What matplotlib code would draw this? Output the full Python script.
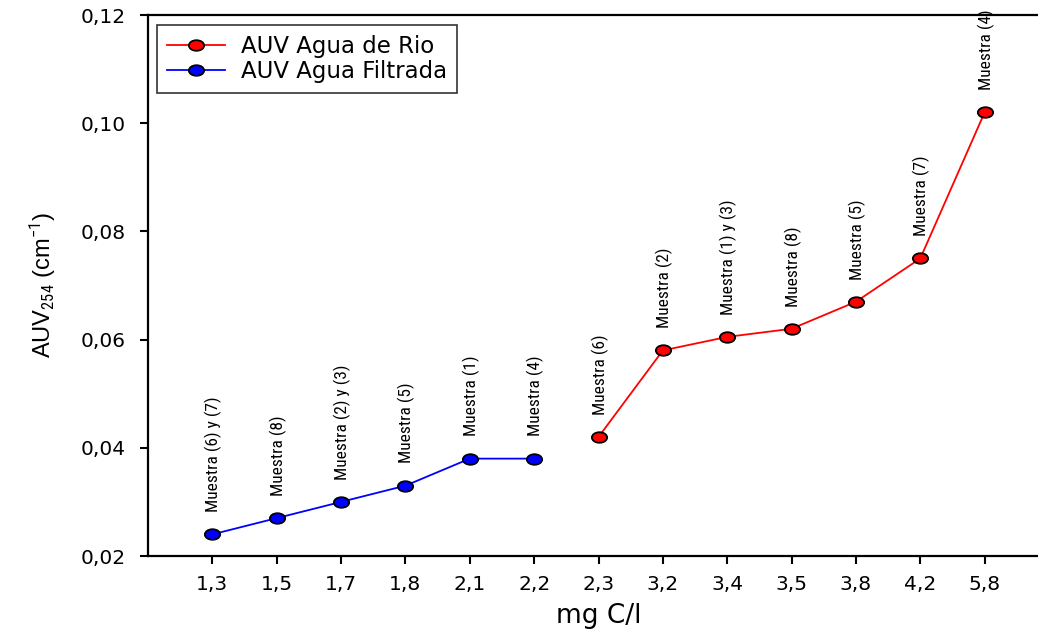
import matplotlib
matplotlib.use("Agg")
import matplotlib.pyplot as plt
from matplotlib.path import Path
from matplotlib.transforms import Affine2D

# data
x_labels = ["1,3", "1,5", "1,7", "1,8", "2,1", "2,2", "2,3",
            "3,2", "3,4", "3,5", "3,8", "4,2", "5,8"]
filtrada_pos = [1, 2, 3, 4, 5, 6]
filtrada_vals = [0.024, 0.027, 0.030, 0.033, 0.038, 0.038]
filtrada_names = ["Muestra (6) y (7)", "Muestra (8)", "Muestra (2) y (3)",
                  "Muestra (5)", "Muestra (1)", "Muestra (4)"]
rio_pos = [7, 8, 9, 10, 11, 12, 13]
rio_vals = [0.042, 0.058, 0.0605, 0.062, 0.067, 0.075, 0.102]
rio_names = ["Muestra (6)", "Muestra (2)", "Muestra (1) y (3)", "Muestra (8)",
             "Muestra (5)", "Muestra (7)", "Muestra (4)"]
y_ticks = [0.02, 0.04, 0.06, 0.08, 0.10, 0.12]

plt.rcParams['font.family'] = ['DejaVu Sans']
plt.rcParams['mathtext.fontset'] = 'custom'
plt.rcParams['mathtext.rm'] = 'Roboto Condensed'
plt.rcParams['mathtext.it'] = 'Roboto Condensed'
narrow = ['Roboto Condensed', 'Archivo Narrow', 'Liberation Sans', 'DejaVu Sans']

# slightly wide dots, like the stretched original
dot = Path.unit_circle().transformed(Affine2D().scale(1.45, 1.0))

fig = plt.figure(figsize=(10.38, 6.31), dpi=100)
ax = fig.add_axes([148/1038, 1 - 556/631, (1049-148)/1038, (556-15)/631])

ax.plot(rio_pos, rio_vals, color="red", lw=1.3, marker=dot, ms=11,
        mfc="red", mec="black", mew=1.3, label="AUV Agua de Rio")
ax.plot(filtrada_pos, filtrada_vals, color="blue", lw=1.3, marker=dot, ms=11,
        mfc="blue", mec="black", mew=1.3, label="AUV Agua Filtrada")

for p, v, n in zip(filtrada_pos + rio_pos, filtrada_vals + rio_vals,
                   filtrada_names + rio_names):
    ax.annotate(n, (p, v), xytext=(1, 16), textcoords="offset points",
                rotation=90, ha="center", va="bottom", fontsize=12.5,
                family=narrow)

ax.set_xlim(0, 14)
ax.set_ylim(0.02, 0.12)
ax.set_xticks(range(1, 14))
ax.set_xticklabels(x_labels)
ax.set_yticks(y_ticks)
ax.set_yticklabels([f"{t:.2f}".replace(".", ",") for t in y_ticks])
ax.tick_params(direction="out", length=6, width=1.5, labelsize=14.5, pad=10)
ax.tick_params(axis="x", pad=8)

for side in ["left", "bottom", "top"]:
    ax.spines[side].set_linewidth(1.6)
ax.spines["right"].set_visible(False)

ax.set_xlabel("mg C/l", fontsize=19, labelpad=6)
ax.set_ylabel("AUV$_{254}$ (cm$^{-1}$)", fontsize=17, labelpad=16,
              family=['Liberation Sans', 'DejaVu Sans'])

leg = ax.legend(loc="upper left", fontsize=16.5, frameon=True, fancybox=False,
                edgecolor="black", borderpad=0.45, handlelength=2.5,
                bbox_to_anchor=(0.005, 0.99), labelspacing=0.08,
                handletextpad=0.7, borderaxespad=0.2)
leg.get_frame().set_linewidth(1.2)

fig.savefig("out.png", dpi=100)
